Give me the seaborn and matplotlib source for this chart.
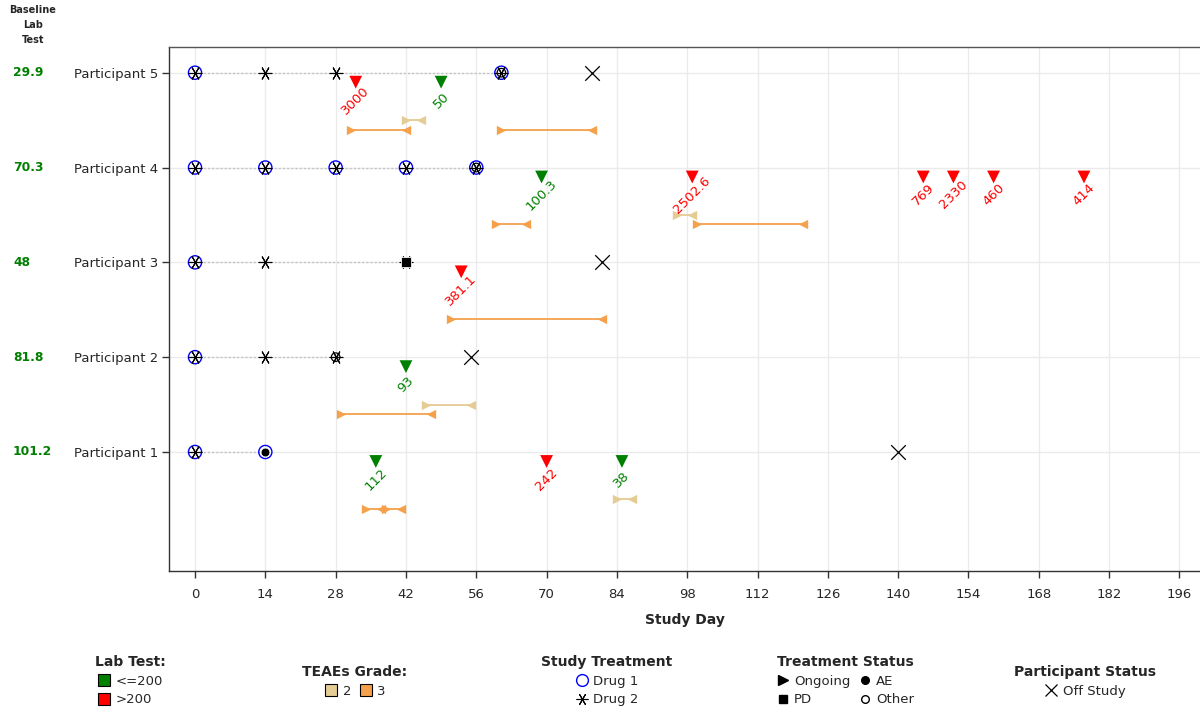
import matplotlib
matplotlib.use("Agg")
import numpy as np
import pandas as pd
import matplotlib.pyplot as plt
from matplotlib.lines import Line2D
from matplotlib.transforms import blended_transform_factory
import seaborn as sns

# ---------------------------------------------------------------- data
participants = ["Participant 1", "Participant 2", "Participant 3",
                "Participant 4", "Participant 5"]
baseline_lab = [101.2, 81.8, 48, 70.3, 29.9]

# study treatment administrations (participant number, study day)
drug1_pid = [1, 1, 2, 3, 4, 4, 4, 4, 4, 5, 5]
drug1_day = [0, 14, 0, 0, 0, 14, 28, 42, 56, 0, 61]
drug2_pid = [1, 2, 2, 2, 3, 3, 3, 4, 4, 4, 4, 4, 5, 5, 5, 5]
drug2_day = [0, 0, 14, 28, 0, 14, 42, 0, 14, 28, 42, 56, 0, 14, 28, 61]

# treatment status at the last administration
status_pid = [1, 2, 3, 4, 5]
status_day = [14, 28, 42, 56, 61]
status_type = ["AE", "Other", "PD", "Other", "Other"]

# participant went off study
offstudy_pid = [1, 2, 3, 5]
offstudy_day = [140, 55, 81, 79]

# lab test results
lab_pid = [1, 1, 1, 2, 3, 4, 4, 4, 4, 4, 4, 5, 5]
lab_day = [36, 70, 85, 42, 53, 69, 99, 145, 151, 159, 177, 32, 49]
lab_value = [112, 242, 38, 93, 381.1, 100.3, 2502.6, 769, 2330, 460, 414, 3000, 50]

# treatment-emergent adverse events
ae_pid = [1, 1, 1, 2, 2, 3, 4, 4, 4, 5, 5, 5]
ae_start = [34, 38, 84, 29, 46, 51, 60, 96, 100, 31, 42, 61]
ae_end = [37, 41, 87, 47, 55, 81, 66, 99, 121, 42, 45, 79]
ae_grade = [3, 3, 2, 3, 2, 3, 3, 2, 3, 3, 2, 3]

x_ticks = list(range(0, 197, 14))

# ---------------------------------------------------------------- styling
GREEN = "#008000"
RED = "#ff0000"
GRADE_COLORS = {2: "#e5cc94", 3: "#f5a04b"}
LAB_COLORS = {"<=200": GREEN, ">200": RED}
ASTERISK = (6, 2, 90)

sns.set_theme(style="whitegrid")
plt.rcParams["font.family"] = ["DejaVu Sans"]

fig = plt.figure(figsize=(12, 7.11), dpi=100)
ax = fig.add_axes([169 / 1200, 140 / 711, 1031 / 1200, 524 / 711])
ax.set_facecolor("white")

drug1 = pd.DataFrame({"pid": drug1_pid, "day": drug1_day})
drug2 = pd.DataFrame({"pid": drug2_pid, "day": drug2_day})
status = pd.DataFrame({"pid": status_pid, "day": status_day, "type": status_type})
offstudy = pd.DataFrame({"pid": offstudy_pid, "day": offstudy_day})
lab = pd.DataFrame({"pid": lab_pid, "day": lab_day, "value": lab_value})
lab["flag"] = np.where(lab["value"] <= 200, "<=200", ">200")
ae = pd.DataFrame({"pid": ae_pid, "start": ae_start, "end": ae_end, "grade": ae_grade})

# dotted line from first to last administration
last_dose = pd.concat([drug1, drug2]).groupby("pid")["day"].agg(["min", "max"])
for pid, row in last_dose.iterrows():
    ax.plot([row["min"], row["max"]], [pid, pid], color="#c4c4c4",
            linestyle=(0, (1.5, 1.5)), linewidth=1, zorder=2)

# TEAE duration bars with inward-pointing caps
for grade, grp in ae.groupby("grade"):
    col = GRADE_COLORS[grade]
    yoff = 0.5 if grade == 2 else 0.6
    ys = grp["pid"] - yoff
    ax.hlines(ys, grp["start"], grp["end"], color=col, linewidth=1.3, zorder=3)
    ax.scatter(grp["start"], ys, marker=">", s=45, color=col, linewidths=0, zorder=4)
    ax.scatter(grp["end"], ys, marker="<", s=45, color=col, linewidths=0, zorder=4)

# study treatment markers
sns.scatterplot(data=drug1, x="day", y="pid", ax=ax, marker="o", s=90,
                facecolor="none", edgecolor="blue", linewidth=1.0,
                legend=False, zorder=5)
sns.scatterplot(data=drug2, x="day", y="pid", ax=ax, marker=ASTERISK, s=85,
                color="black", linewidth=0.8, legend=False, zorder=6)

# treatment status
st_style = {"AE": dict(marker="o", s=40, color="black"),
            "PD": dict(marker="s", s=48, color="black"),
            "Other": dict(marker="o", s=38, facecolor="none", edgecolor="black",
                          linewidth=0.9)}
for kind, grp in status.groupby("type"):
    sns.scatterplot(data=grp, x="day", y="pid", ax=ax, legend=False, zorder=7,
                    **st_style[kind])

# off study
sns.scatterplot(data=offstudy, x="day", y="pid", ax=ax, marker="x", s=110,
                color="black", linewidth=0.9, legend=False, zorder=7)

# lab test results with rotated value labels
lab_plot = lab.assign(y=lab["pid"] - 0.1)
sns.scatterplot(data=lab_plot, x="day", y="y", hue="flag", palette=LAB_COLORS,
                ax=ax, marker="v", s=85, linewidth=0, legend=False, zorder=7)
for _, r in lab.iterrows():
    ax.text(r["day"], r["pid"] - 0.29, f"{r['value']:g}", rotation=45,
            rotation_mode="anchor", ha="center", va="center", fontsize=9.5,
            color=LAB_COLORS[r["flag"]], zorder=8)

# ---------------------------------------------------------------- axes
ax.set_xlim(-5.18, 200.1)
ax.set_ylim(-0.255, 5.271)
ax.set_xticks(x_ticks)
ax.set_xticklabels([str(t) for t in x_ticks], fontsize=9.5)
ax.set_yticks(range(1, 6))
ax.set_yticklabels(participants, fontsize=9.5)
ax.set_xlabel("Study Day", fontsize=10, fontweight="bold", labelpad=9)
ax.set_ylabel("")
ax.grid(True, color="#ebebeb", linewidth=1)
ax.set_axisbelow(True)
ax.tick_params(axis="both", length=5, width=1, color="#333333", pad=3,
               direction="out", bottom=True, left=True)
ax.tick_params(axis="x", pad=7)
for side in ("left", "bottom", "top"):
    ax.spines[side].set_visible(True)
    ax.spines[side].set_color("#333333")
    ax.spines[side].set_linewidth(1.0)
ax.spines["top"].set_color("#555555")
ax.spines["right"].set_visible(False)

# baseline lab column at the left
trans = blended_transform_factory(fig.transFigure, ax.transData)
for i, v in enumerate(baseline_lab, start=1):
    ax.text(13 / 1200, i, f"{v:g}", transform=trans, ha="left", va="center",
            fontsize=8.8, fontweight="bold", color=GREEN)
fig.text(33 / 1200, 1 - 5 / 711, "Baseline\nLab\nTest", ha="center", va="top",
         fontsize=7, fontweight="bold", linespacing=1.6)

# ---------------------------------------------------------------- legends
def sq(color):
    return Line2D([], [], marker="s", linestyle="none", markersize=8.5,
                  markerfacecolor=color, markeredgecolor="black",
                  markeredgewidth=0.8)

legend_kw = dict(frameon=False, borderpad=0, handletextpad=0.35,
                 handlelength=1.0, labelspacing=0.45, fontsize=9.5,
                 title_fontproperties={"weight": "bold", "size": 10},
                 loc="upper center")

fig.legend([sq(GREEN), sq(RED)], ["<=200", ">200"], title="Lab Test:",
           bbox_to_anchor=(130 / 1200, 1 - 648 / 711), **legend_kw)

fig.legend([sq(GRADE_COLORS[2]), sq(GRADE_COLORS[3])], ["2", "3"],
           title="TEAEs Grade:", ncol=2, columnspacing=0.6,
           bbox_to_anchor=(355 / 1200, 1 - 658 / 711), **legend_kw)

fig.legend([Line2D([], [], marker="o", linestyle="none", markersize=8.5,
                   markerfacecolor="none", markeredgecolor="blue"),
            Line2D([], [], marker=ASTERISK, linestyle="none", markersize=8.5,
                   color="black", markeredgewidth=0.8)],
           ["Drug 1", "Drug 2"], title="Study Treatment",
           bbox_to_anchor=(607 / 1200, 1 - 648 / 711), **legend_kw)

fig.legend([Line2D([], [], marker=">", linestyle="none", markersize=7, color="black"),
            Line2D([], [], marker="s", linestyle="none", markersize=5.5, color="black"),
            Line2D([], [], marker="o", linestyle="none", markersize=5.5, color="black"),
            Line2D([], [], marker="o", linestyle="none", markersize=5.5,
                   markerfacecolor="none", markeredgecolor="black")],
           ["Ongoing", "PD", "AE", "Other"], title="Treatment Status",
           ncol=2, columnspacing=0.6,
           bbox_to_anchor=(845 / 1200, 1 - 648 / 711), **legend_kw)

fig.legend([Line2D([], [], marker="x", linestyle="none", markersize=9,
                   color="black", markeredgewidth=0.9)],
           ["Off Study"], title="Participant Status",
           bbox_to_anchor=(1085 / 1200, 1 - 658 / 711), **legend_kw)

fig.savefig("out.png", dpi=100, facecolor="white")
